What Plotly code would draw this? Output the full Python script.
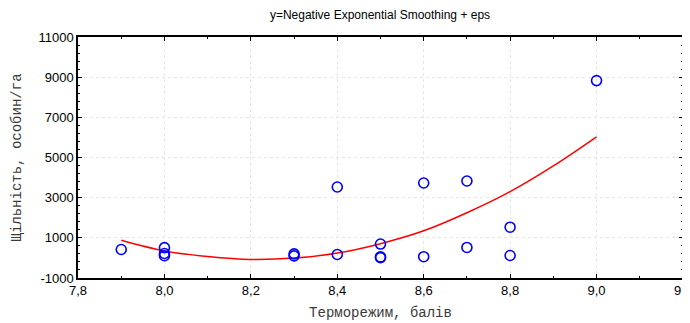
import plotly.graph_objects as go

# Observed data
x_pts = [7.9, 8.0, 8.0, 8.0, 8.3, 8.3, 8.4, 8.4, 8.5, 8.5, 8.5, 8.6, 8.6, 8.7, 8.7, 8.8, 8.8, 9.0]
y_pts = [420, 510, 220, 110, 200, 100, 3530, 170, 690, 50, 10, 3730, 60, 3830, 520, 1530, 120, 8830]

# Smoothed curve
x_fit = [7.9, 8.0, 8.1, 8.2, 8.3, 8.4, 8.5, 8.6, 8.7, 8.8, 8.9, 9.0]
y_fit = [880, 350, 70, -80, -10, 240, 710, 1350, 2250, 3300, 4580, 6030]

x_ticks = [7.8, 8.0, 8.2, 8.4, 8.6, 8.8, 9.0, 9.2]
x_labels = ["7,8", "8,0", "8,2", "8,4", "8,6", "8,8", "9,0", "9,2"]
y_ticks = [-1000, 1000, 3000, 5000, 7000, 9000, 11000]
y_labels = ["-1000", "1000", "3000", "5000", "7000", "9000", "11000"]

# the page body has an 8px margin, so the figure is 8px smaller
W, H = 682, 315

fig = go.Figure()
fig.add_trace(go.Scatter(x=x_fit, y=y_fit, mode="lines", line=dict(color="#ff0000", width=1.5, shape="spline"),
                         showlegend=False, hoverinfo="skip"))
fig.add_trace(go.Scatter(x=x_pts, y=y_pts, mode="markers",
                         marker=dict(symbol="circle-open", size=10, color="#0000ff", line=dict(width=1.6, color="#0000ff")),
                         showlegend=False))

fig.update_layout(
    width=W, height=H,
    margin=dict(l=70, r=7, t=29, b=45, autoexpand=False),
    paper_bgcolor="white", plot_bgcolor="white",
    title=dict(text="y=Negative Exponential Smoothing + eps", x=372 / W, xanchor="center",
               y=1 - 7 / H, yanchor="middle", automargin=False,
               font=dict(family="Liberation Sans Narrow, Liberation Sans, Arial", size=12, color="black")),
    font=dict(family="Liberation Sans, Arial", size=13, color="black"),
)

fig.update_xaxes(
    range=[7.7999, 9.2001], tickvals=x_ticks, ticktext=x_labels, ticklabeloverflow="allow",
    showline=True, linecolor="black", linewidth=1.5, mirror="ticks",
    ticks="inside", ticklen=4, tickcolor="black",
    minor=dict(dtick=0.1, tick0=7.8, ticks="inside", ticklen=2, tickcolor="black", showgrid=False),
    showgrid=True, gridcolor="#e6e6e6", griddash="dot", gridwidth=1,
    zeroline=False, automargin=False,
    tickfont=dict(family="Liberation Sans, Arial", size=13),
    title=dict(text="Терморежим, балів", font=dict(family="Liberation Mono, Courier New", size=14, color="#3a3a3a"), standoff=10),
)
fig.update_yaxes(
    range=[-1000, 11000], tickvals=y_ticks, ticktext=y_labels,
    showline=True, linecolor="black", linewidth=1.5, mirror="ticks",
    ticks="inside", ticklen=4, tickcolor="black",
    minor=dict(dtick=400, tick0=-1000, ticks="inside", ticklen=2, tickcolor="black", showgrid=False),
    showgrid=True, gridcolor="#e6e6e6", griddash="dot", gridwidth=1,
    zeroline=False, automargin=False,
    tickfont=dict(family="Liberation Sans, Arial", size=13),
    title=dict(text="Щільність, особин/га", font=dict(family="Liberation Mono, Courier New", size=14, color="#3a3a3a"), standoff=14),
)

fig.write_html("out.html")
